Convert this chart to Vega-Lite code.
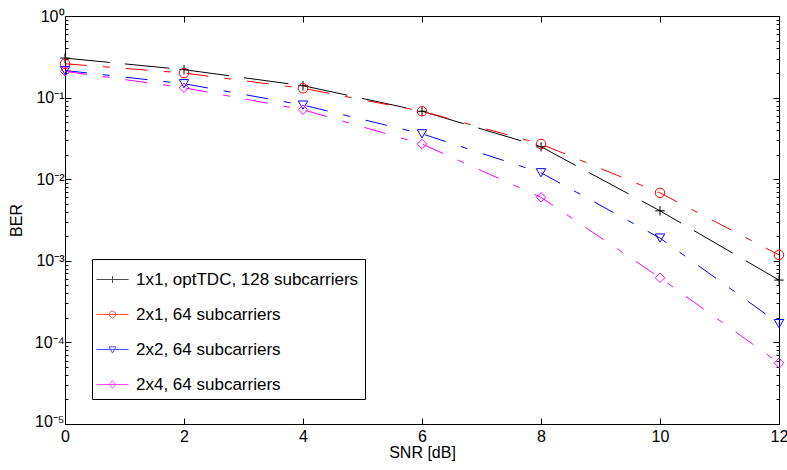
{
  "$schema": "https://vega.github.io/schema/vega-lite/v6.json",
  "width": 714,
  "height": 408,
  "autosize": "none",
  "padding": {"left": 65, "top": 16, "right": 8, "bottom": 46},
  "background": "white",
  "config": {
    "view": {"stroke": "black", "strokeWidth": 1},
    "axis": {
      "domainColor": "black",
      "tickColor": "black",
      "labelColor": "black",
      "titleColor": "black",
      "labelFont": "Liberation Sans",
      "titleFont": "Liberation Sans",
      "labelFontSize": 16,
      "titleFontSize": 16,
      "titleFontWeight": "normal",
      "grid": false
    },
    "legend": {
      "labelFont": "Liberation Sans",
      "labelFontSize": 17,
      "labelColor": "black",
      "labelLimit": 400
    }
  },
  "data": {
    "values": [
      {"snr": 0, "ber": 0.305, "series": "1x1, optTDC, 128 subcarriers"},
      {"snr": 2, "ber": 0.22, "series": "1x1, optTDC, 128 subcarriers"},
      {"snr": 4, "ber": 0.14, "series": "1x1, optTDC, 128 subcarriers"},
      {"snr": 6, "ber": 0.068, "series": "1x1, optTDC, 128 subcarriers"},
      {"snr": 8, "ber": 0.025, "series": "1x1, optTDC, 128 subcarriers"},
      {"snr": 10, "ber": 0.0041, "series": "1x1, optTDC, 128 subcarriers"},
      {"snr": 12, "ber": 0.00058, "series": "1x1, optTDC, 128 subcarriers"},
      {"snr": 0, "ber": 0.26, "series": "2x1, 64 subcarriers"},
      {"snr": 2, "ber": 0.2, "series": "2x1, 64 subcarriers"},
      {"snr": 4, "ber": 0.13, "series": "2x1, 64 subcarriers"},
      {"snr": 6, "ber": 0.068, "series": "2x1, 64 subcarriers"},
      {"snr": 8, "ber": 0.027, "series": "2x1, 64 subcarriers"},
      {"snr": 10, "ber": 0.0068, "series": "2x1, 64 subcarriers"},
      {"snr": 12, "ber": 0.00118, "series": "2x1, 64 subcarriers"},
      {"snr": 0, "ber": 0.215, "series": "2x2, 64 subcarriers"},
      {"snr": 2, "ber": 0.148, "series": "2x2, 64 subcarriers"},
      {"snr": 4, "ber": 0.081, "series": "2x2, 64 subcarriers"},
      {"snr": 6, "ber": 0.036, "series": "2x2, 64 subcarriers"},
      {"snr": 8, "ber": 0.012, "series": "2x2, 64 subcarriers"},
      {"snr": 10, "ber": 0.0019, "series": "2x2, 64 subcarriers"},
      {"snr": 12, "ber": 0.00017, "series": "2x2, 64 subcarriers"},
      {"snr": 0, "ber": 0.21, "series": "2x4, 64 subcarriers"},
      {"snr": 2, "ber": 0.132, "series": "2x4, 64 subcarriers"},
      {"snr": 4, "ber": 0.071, "series": "2x4, 64 subcarriers"},
      {"snr": 6, "ber": 0.027, "series": "2x4, 64 subcarriers"},
      {"snr": 8, "ber": 0.006, "series": "2x4, 64 subcarriers"},
      {"snr": 10, "ber": 0.00062, "series": "2x4, 64 subcarriers"},
      {"snr": 12, "ber": 0.000056, "series": "2x4, 64 subcarriers"}
    ]
  },
  "layer": [
    {
      "mark": {"type": "line", "strokeWidth": 1, "clip": false},
      "encoding": {
        "x": {
          "field": "snr", "type": "quantitative",
          "scale": {"domain": [0, 12], "nice": false, "zero": false},
          "axis": {
            "orient": "bottom",
            "values": [0, 2, 4, 6, 8, 10, 12],
            "tickSize": -6,
            "labelPadding": 10,
            "labelFlush": false,
            "title": "SNR [dB]",
            "titlePadding": 0
          }
        },
        "y": {
          "field": "ber", "type": "quantitative",
          "scale": {"type": "log", "domain": [0.00001, 1], "nice": false},
          "axis": {
            "orient": "left",
            "values": [0.00001, 0.00002, 0.00003, 0.00004, 0.00005, 0.00006, 0.00007, 0.00008, 0.00009,
                       0.0001, 0.0002, 0.0003, 0.0004, 0.0005, 0.0006, 0.0007, 0.0008, 0.0009,
                       0.001, 0.002, 0.003, 0.004, 0.005, 0.006, 0.007, 0.008, 0.009,
                       0.01, 0.02, 0.03, 0.04, 0.05, 0.06, 0.07, 0.08, 0.09,
                       0.1, 0.2, 0.3, 0.4, 0.5, 0.6, 0.7, 0.8, 0.9, 1],
            "tickSize": {"condition": {"test": "abs(log(datum.value)/LN10 - round(log(datum.value)/LN10)) < 0.001", "value": -6}, "value": -3},
            "labelExpr": "abs(log(datum.value)/LN10 - round(log(datum.value)/LN10)) < 0.001 ? '10' + ['⁰','⁻¹','⁻²','⁻³','⁻⁴','⁻⁵'][-round(log(datum.value)/LN10)] : ''",
            "labelOffset": {"condition": {"test": "datum.value < 0.000015", "value": -3}, "value": 0},
            "labelOverlap": false,
            "labelFlush": false,
            "labelPadding": 7,
            "title": "BER",
            "titlePadding": 10
          }
        },
        "color": {
          "field": "series", "type": "nominal",
          "scale": {
            "domain": ["1x1, optTDC, 128 subcarriers", "2x1, 64 subcarriers", "2x2, 64 subcarriers", "2x4, 64 subcarriers"],
            "range": ["#000000", "#ff0000", "#0000ff", "#ff00ff"]
          },
          "legend": null
        },
        "strokeDash": {
          "field": "series", "type": "nominal",
          "scale": {
            "domain": ["1x1, optTDC, 128 subcarriers", "2x1, 64 subcarriers", "2x2, 64 subcarriers", "2x4, 64 subcarriers"],
            "range": [[45, 15], [22, 16, 7, 16], [22, 16, 7, 16], [22, 16, 7, 16]]
          },
          "legend": null
        }
      }
    },
    {
      "mark": {"type": "point", "filled": false, "size": 90, "strokeWidth": 1, "opacity": 1, "clip": false},
      "encoding": {
        "x": {
          "field": "snr", "type": "quantitative",
          "axis": {
            "orient": "top",
            "values": [0, 2, 4, 6, 8, 10, 12],
            "tickSize": -6,
            "labels": false,
            "title": null
          }
        },
        "y": {
          "field": "ber", "type": "quantitative",
          "axis": {
            "orient": "right",
            "values": [0.00001, 0.00002, 0.00003, 0.00004, 0.00005, 0.00006, 0.00007, 0.00008, 0.00009,
                       0.0001, 0.0002, 0.0003, 0.0004, 0.0005, 0.0006, 0.0007, 0.0008, 0.0009,
                       0.001, 0.002, 0.003, 0.004, 0.005, 0.006, 0.007, 0.008, 0.009,
                       0.01, 0.02, 0.03, 0.04, 0.05, 0.06, 0.07, 0.08, 0.09,
                       0.1, 0.2, 0.3, 0.4, 0.5, 0.6, 0.7, 0.8, 0.9, 1],
            "tickSize": {"condition": {"test": "abs(log(datum.value)/LN10 - round(log(datum.value)/LN10)) < 0.001", "value": -6}, "value": -3},
            "labels": false,
            "title": null
          }
        },
        "color": {
          "field": "series", "type": "nominal",
          "scale": {
            "domain": ["1x1, optTDC, 128 subcarriers", "2x1, 64 subcarriers", "2x2, 64 subcarriers", "2x4, 64 subcarriers"],
            "range": ["#000000", "#ff0000", "#0000ff", "#ff00ff"]
          },
          "legend": null
        },
        "shape": {
          "field": "series", "type": "nominal",
          "scale": {
            "domain": ["1x1, optTDC, 128 subcarriers", "2x1, 64 subcarriers", "2x2, 64 subcarriers", "2x4, 64 subcarriers"],
            "range": ["M-1,0H1M0,-1V1", "circle", "triangle-down", "diamond"]
          },
          "legend": null
        }
      }
    },
    {
      "transform": [{"filter": "datum.snr < 0"}],
      "mark": {"type": "point", "filled": false, "strokeWidth": 1},
      "encoding": {
        "color": {
          "field": "series", "type": "nominal",
          "scale": {
            "domain": ["1x1, optTDC, 128 subcarriers", "2x1, 64 subcarriers", "2x2, 64 subcarriers", "2x4, 64 subcarriers"],
            "range": ["#000000", "#ff0000", "#0000ff", "#ff00ff"]
          },
          "legend": {
            "title": null,
            "orient": "none",
            "legendX": 27,
            "legendY": 243,
            "padding": 6,
            "rowPadding": 12,
            "symbolSize": 784,
            "labelOffset": 9,
            "strokeColor": "black",
            "fillColor": "white",
            "symbolStrokeWidth": 1
          }
        },
        "shape": {
          "field": "series", "type": "nominal",
          "scale": {
            "domain": ["1x1, optTDC, 128 subcarriers", "2x1, 64 subcarriers", "2x2, 64 subcarriers", "2x4, 64 subcarriers"],
            "range": [
              "M-1.15,0H1.15M0,-0.25V0.25",
              "M-1.15,0H1.15M0.23,0A0.23,0.23 0 1,1 -0.23,0A0.23,0.23 0 1,1 0.23,0",
              "M-1.15,0H1.15M-0.25,-0.19H0.25L0,0.25Z",
              "M-1.15,0H1.15M0,-0.28L0.22,0L0,0.28L-0.22,0Z"
            ]
          },
          "legend": {
            "title": null,
            "orient": "none",
            "legendX": 27,
            "legendY": 243,
            "padding": 6,
            "rowPadding": 12,
            "symbolSize": 784,
            "labelOffset": 9,
            "strokeColor": "black",
            "fillColor": "white",
            "symbolStrokeWidth": 1
          }
        }
      }
    }
  ],
  "resolve": {
    "scale": {"color": "independent", "shape": "independent", "strokeDash": "independent"},
    "axis": {"x": "independent", "y": "independent"}
  }
}
